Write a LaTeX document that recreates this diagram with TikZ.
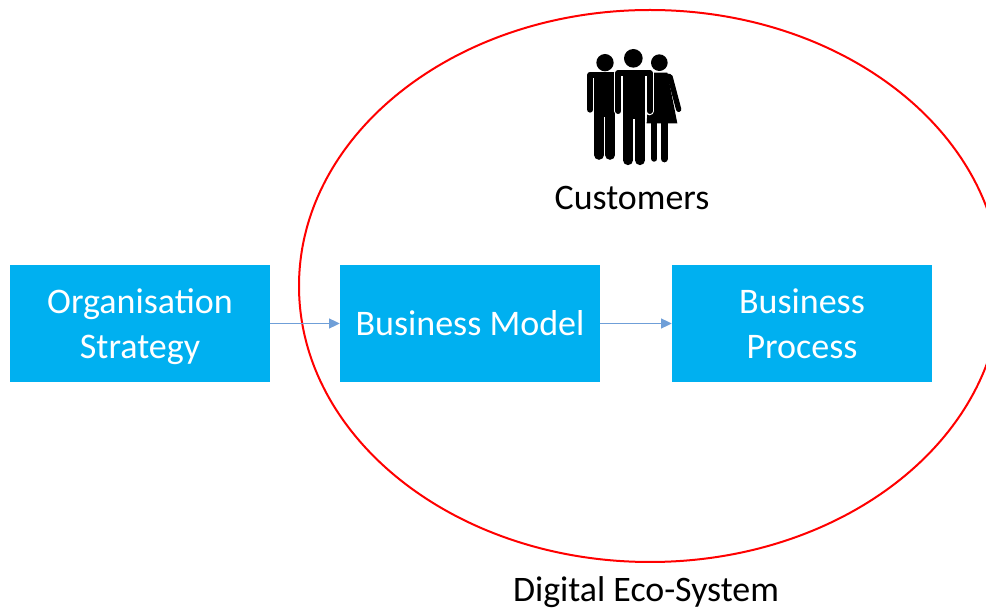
\documentclass[tikz,border=0pt]{standalone}
\usepackage{fontspec}
\setmainfont{Carlito}
\usetikzlibrary{arrows.meta}
\definecolor{boxblue}{HTML}{00B0F0}
\definecolor{linkblue}{HTML}{6F9FD8}
\newcommand{\manshape}[2]{%
  \draw[#1,line width=4.5pt+#2,line cap=round,line join=round] (-47,213) -- (-47,99) -- (47,99) -- (47,213);
  \fill[#1] (-34,90) rectangle (34,236);
  \draw[#1,line width=7.2pt+#2,line cap=round] (-18,225) -- (-18,361);
  \draw[#1,line width=7.2pt+#2,line cap=round] (18,225) -- (18,361);
}
\tikzset{
  x=0.75pt,y=-0.75pt,
  bluebox/.style={fill=boxblue,draw=none,minimum width=195pt,minimum height=87.75pt,inner sep=0pt,align=center,text=white,font=\fontsize{27}{33.75}\selectfont},
  label/.style={text=black,inner sep=0pt,font=\fontsize{26.9}{32}\selectfont},
  link/.style={draw=linkblue,line width=0.9pt,-{Triangle[length=8pt,width=7.5pt]}},
  eco/.style={draw=red,line width=1.5pt},
}
\begin{document}
\begin{tikzpicture}
\useasboundingbox (0,0) rectangle (986,609);
\fill[white] (0,0) rectangle (986,609);
\begin{scope}
\clip (0,0) rectangle (986,609);
\draw[eco] (650,286) ellipse [x radius=351,y radius=276];
\end{scope}
\node[bluebox] (strategy) at (140,323.5) {\rule{0pt}{23pt}Organisation\\Strategy};
\node[bluebox] (model) at (470,323.5) {Business Model};
\node[bluebox] (process) at (802,323.5) {Business\\Process};
\draw[link] (strategy) -- (model);
\draw[link] (model) -- (process);
\node[label] (customers) at (632,198) {Customers};
\node[label] (digital) at (646,592) {Digital Eco-System};
% people
\begin{scope}[shift={(570,40)},x=0.25pt,y=-0.25pt]
  % woman
  \fill (268,68) circle [radius=25];
  \fill (240,98) -- (292,98) -- (322,250) -- (230,250) -- cycle;
  \draw[line width=4pt,line cap=round,line join=round] (285,108) -- (300,110) -- (326,208);
  \draw[line width=4.6pt,line cap=round] (253,245) -- (253,356);
  \draw[line width=5.6pt,line cap=round] (283,245) -- (283,356);
  % left man
  \fill (105,68) circle [radius=26];
  \begin{scope}[shift={(104,13)},scale=0.92]
    \manshape{black}{0pt}
  \end{scope}
  % middle man
  \begin{scope}[shift={(192,0)}]
    \manshape{white}{2pt}
    \fill[white] (-36,88) rectangle (36,240);
    \manshape{black}{0pt}
    \fill (-2,55) circle [radius=28];
  \end{scope}
\end{scope}
\end{tikzpicture}
\end{document}
